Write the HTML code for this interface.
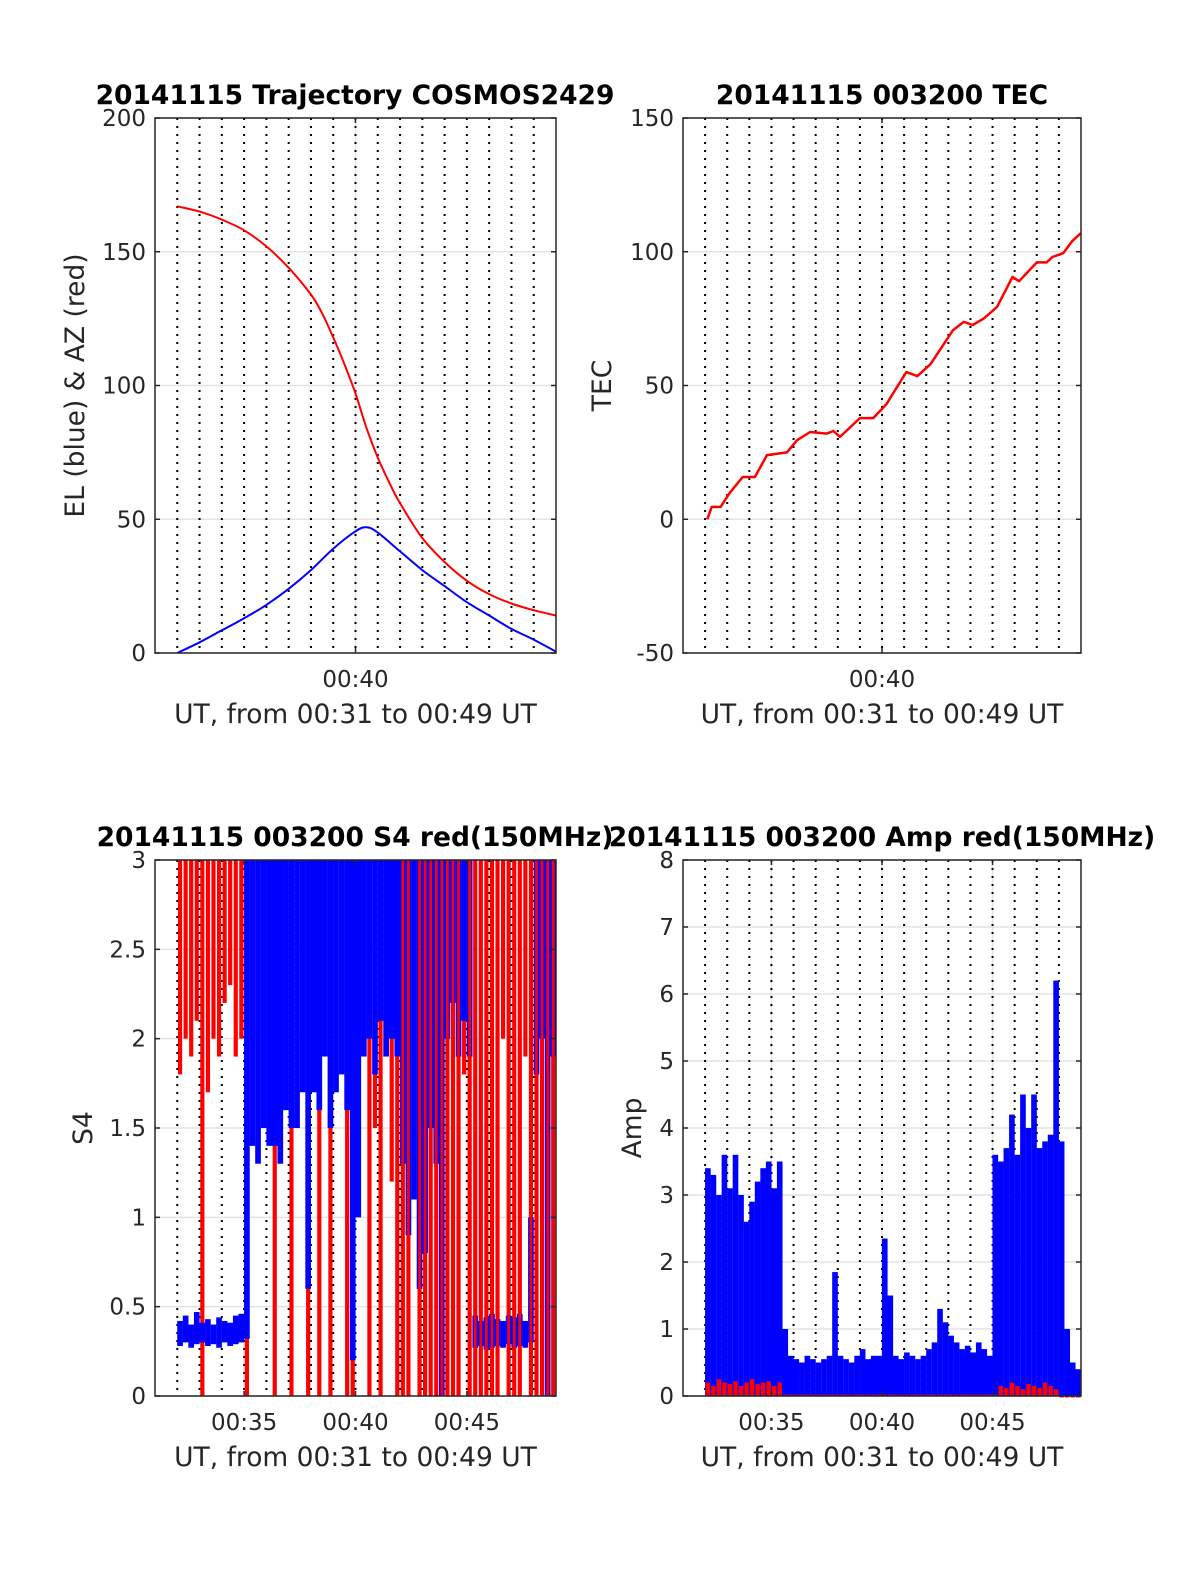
<!DOCTYPE html>
<html><head><meta charset="utf-8">
<style>
html,body{margin:0;padding:0;background:#fff;}
svg{display:block;font-family:"DejaVu Sans","Liberation Sans",sans-serif;}
</style></head>
<body>
<svg id="fig" width="1200" height="1575" viewBox="0 0 1200 1575" xmlns="http://www.w3.org/2000/svg"></svg>
<script>
// ---- data (minutes after 00:31) ----
const azT = [1,2,3,4,5,6,7,7.5,8,8.5,9,9.5,10,10.5,11,12,13,14,15,16,17,18];
const azV = [167,165,162,158,152,144,134,127,118,108,97,84,73,64,56,43,34,27,22,18.5,16,14];
const elT = [1,2,3,4,5,6,7,8,9,9.5,10,11,12,13,14,15,16,17,18];
const elV = [0,4,8.5,13,18,24,31,39,45.5,47,45,38,31,25,19,14,9,5,0.5];
const tecT = [1.1,1.3,1.7,2.1,2.7,3.25,3.8,4.7,5.15,5.75,6.5,6.8,7.1,8.0,8.6,9.2,10.1,10.6,11.2,12.2,12.7,13.1,13.6,14.2,14.9,15.2,16.0,16.45,16.7,17.2,17.6,18];
const tecV = [0,4.6,4.6,9.7,15.8,15.8,24,25,29.5,32.6,32,33,30.8,37.8,37.8,43,55,53.5,58,70.6,73.8,72.6,75,79.4,90.6,89,96,96,98,99.5,104,107];
// binned (0.25 min bins starting at t=1)
const s4RedLo = [1.8,2.0,1.9,2.1,0,1.7,2.0,1.9,2.2,2.3,1.9,2.0,0,2.6,2.4,2.5,2.5,0,2.3,2.5,0,2.4,2.2,0,2.5,0,2.2,0,2.4,2.2,0,0,1.8,2.0,0,1.5,0,2.0,1.2,0,0,0,1.6,0,0,0,0,0,0,0,0,1.8,0,0,0,0,0,0,2.0,0,0,0,1.9,0,0,0,0,0];
const s4RedHi = [3,3,3,3,3,3,3,3,3,3,3,3,3,3,3,3,3,3,3,3,3,3,3,3,3,3,3,3,3,3,3,3,3,3,3,3,3,3,3,3,3,3,3,3,3,3,3,3,3,3,3,3,3,3,3,3,3,3,3,3,3,3,3,3,3,3,3,3];
const s4BlueLo = [0.28,0.3,0.27,0.29,0.3,0.28,0.29,0.27,0.3,0.28,0.29,0.3,0.32,1.4,1.3,1.5,1.4,1.4,1.3,1.6,1.5,1.5,1.7,0.6,1.7,1.6,1.9,1.5,1.7,1.8,1.6,0.2,1.0,1.9,2.0,1.8,2.1,1.9,2.0,1.9,1.3,0.9,1.1,0.6,0.8,1.5,1.3,0,2.0,2.2,1.9,2.1,1.9,0.27,0.28,0.26,0.27,0.28,0.27,0.29,0.27,0.28,0.27,0.3,1.8,2.0,0,1.9];
const s4BlueHi = [0.42,0.45,0.4,0.47,0.41,0.43,0.4,0.44,0.42,0.41,0.45,0.46,3,3,3,3,3,3,3,3,3,3,3,3,3,3,3,3,3,3,3,3,3,3,3,3,3,3,3,3,3,3,3,3,3,3,3,3,3,3,3,3,3,0.45,0.42,0.44,0.46,0.43,0.42,0.45,0.44,0.46,0.42,1.0,3,3,3,3];
const ampBlueHi = [3.4,3.3,3.0,3.6,3.1,3.6,3.0,2.6,2.9,3.2,3.4,3.5,3.1,3.5,1.0,0.6,0.55,0.5,0.6,0.55,0.5,0.55,0.6,1.85,0.6,0.55,0.5,0.6,0.7,0.55,0.6,0.6,2.35,1.5,0.6,0.55,0.65,0.6,0.55,0.6,0.7,0.8,1.3,1.1,0.9,0.8,0.7,0.75,0.65,0.8,0.7,0.6,3.6,3.5,3.7,4.2,3.6,4.5,4.0,4.5,3.7,3.8,3.9,6.2,3.8,1.0,0.5,0.4];
const ampRedHi = [0.2,0.15,0.25,0.2,0.18,0.22,0.15,0.2,0.25,0.18,0.2,0.22,0.15,0.2,0.02,0.02,0.02,0.02,0.02,0.02,0.02,0.02,0.02,0.02,0.02,0.02,0.02,0.02,0.02,0.02,0.02,0.02,0.02,0.02,0.02,0.02,0.02,0.02,0.02,0.02,0.02,0.02,0.02,0.02,0.02,0.02,0.02,0.02,0.02,0.02,0.02,0.02,0.02,0.15,0.12,0.2,0.15,0.1,0.18,0.15,0.12,0.2,0.15,0.1,0,0,0,0];
const binStart = 1, binW = 0.25;

const NS="http://www.w3.org/2000/svg";
const fig=document.getElementById('fig');
function el(tag,attrs,parent){const e=document.createElementNS(NS,tag);for(const k in attrs)e.setAttribute(k,attrs[k]);(parent||fig).appendChild(e);return e;}
function txt(s,attrs,parent){const e=el('text',attrs,parent);e.textContent=s;return e;}

function makeAxes(cfg){
  const g=el('g',{});
  
  
  const X=t=>cfg.x0+(t/18)*(cfg.x1-cfg.x0);
  const Y=v=>cfg.y1-(v-cfg.ymin)/(cfg.ymax-cfg.ymin)*(cfg.y1-cfg.y0);
  cfg.yticks.forEach(v=>{const y=Y(v);
    const l=el('line',{x1:cfg.x0,x2:cfg.x1,y1:y,y2:y,stroke:'#e3e3e3','stroke-width':1.5},g);
    });
  cfg.xticks.forEach(t=>{const x=X(t);
    const l=el('line',{x1:x,x2:x,y1:cfg.y0,y2:cfg.y1,stroke:'#e3e3e3','stroke-width':1.5},g);
    });
  for(let m=1;m<=17;m++){const x=X(m);
    const l=el('line',{x1:x,x2:x,y1:cfg.y0,y2:cfg.y1,stroke:'#000','stroke-width':2,'stroke-dasharray':'2 6'},g);
    }
  const plot=el('g',{},g);
  
  cfg.draw(plot,X,Y);
  const b=el('rect',{x:cfg.x0,y:cfg.y0,width:cfg.x1-cfg.x0,height:cfg.y1-cfg.y0,fill:'none',stroke:'#262626','stroke-width':1.5},g);
  
  cfg.yticks.forEach(v=>{const y=Y(v);
    el('line',{x1:cfg.x0,x2:cfg.x0+5,y1:y,y2:y,stroke:'#262626','stroke-width':1.5},g);
    el('line',{x1:cfg.x1,x2:cfg.x1-5,y1:y,y2:y,stroke:'#262626','stroke-width':1.5},g);
    const t=txt(String(v),{x:cfg.x0-9,y:y+8,'text-anchor':'end','font-size':23,fill:'#262626'},g);
    });
  cfg.xticks.forEach((tk,i)=>{const x=X(tk);
    el('line',{x1:x,x2:x,y1:cfg.y1,y2:cfg.y1-5,stroke:'#262626','stroke-width':1.5},g);
    el('line',{x1:x,x2:x,y1:cfg.y0,y2:cfg.y0+5,stroke:'#262626','stroke-width':1.5},g);
    const t=txt(cfg.xlabels[i],{x:x,y:cfg.y1+34,'text-anchor':'middle','font-size':23,fill:'#262626'},g);
    });
  const xl=txt('UT, from 00:31 to 00:49 UT',{x:(cfg.x0+cfg.x1)/2,y:cfg.y1+70,'text-anchor':'middle','font-size':26.5,fill:'#262626'},g);
  
  const yl=txt(cfg.ylabel,{x:0,y:0,'text-anchor':'middle','font-size':26.5,fill:'#262626',transform:`translate(${cfg.ylx},${(cfg.y0+cfg.y1)/2}) rotate(-90)`},g);
  
  const ti=txt(cfg.title,{x:cfg.tx,y:cfg.y0-14,'text-anchor':'middle','font-size':26.5,'font-weight':'bold',fill:'#000'},g);
  
}
function line(parent,T,V,X,Y,color,name,w){
  const p=el('polyline',{points:T.map((t,i)=>X(t).toFixed(1)+','+Y(V[i]).toFixed(1)).join(' '),fill:'none',stroke:color,'stroke-width':w||2,'stroke-linejoin':'round'},parent);
  
}
function smooth(parent,T,V,X,Y,color,name,w){
  const P=T.map((t,i)=>[X(t),Y(V[i])]);
  let d='M'+P[0][0].toFixed(1)+','+P[0][1].toFixed(1);
  for(let i=0;i<P.length-1;i++){
    const p0=P[Math.max(i-1,0)],p1=P[i],p2=P[i+1],p3=P[Math.min(i+2,P.length-1)];
    const c1=[p1[0]+(p2[0]-p0[0])/6,p1[1]+(p2[1]-p0[1])/6];
    const c2=[p2[0]-(p3[0]-p1[0])/6,p2[1]-(p3[1]-p1[1])/6];
    d+=` C${c1[0].toFixed(1)},${c1[1].toFixed(1)} ${c2[0].toFixed(1)},${c2[1].toFixed(1)} ${p2[0].toFixed(1)},${p2[1].toFixed(1)}`;
  }
  const p=el('path',{d:d,fill:'none',stroke:color,'stroke-width':w||2},parent);
  
}
function bins(parent,lo,hi,X,Y,color,name,frac,clipMax,tMin){
  lo.forEach((l,i)=>{
    const t=binStart+i*binW;
    if(tMin!==undefined && (t<tMin || l>0)) return;
    const x0=X(t), x1=X(t+binW);
    const w=(x1-x0)*frac, xc=(x0+x1)/2;
    const h=Math.min(hi[i],clipMax);
    const y0=Y(h), y1=Y(Math.min(l,clipMax));
    const r=el('rect',{x:xc-w/2,y:y0,width:w,height:Math.max(y1-y0,1.5),fill:color},parent);
    
  });
}

makeAxes({name:'trajectory-chart',x0:155,x1:556,y0:118,y1:653,ymin:0,ymax:200,
  yticks:[0,50,100,150,200],xticks:[9],xlabels:['00:40'],
  ylabel:'EL (blue) & AZ (red)',ylx:84,title:'20141115 Trajectory COSMOS2429',tx:355,
  draw:(p,X,Y)=>{smooth(p,azT,azV,X,Y,'#ff0000','azimuth-line');smooth(p,elT,elV,X,Y,'#0000ff','elevation-line');}});

makeAxes({name:'tec-chart',x0:683,x1:1081,y0:118,y1:653,ymin:-50,ymax:150,
  yticks:[-50,0,50,100,150],xticks:[9],xlabels:['00:40'],
  ylabel:'TEC',ylx:611,title:'20141115 003200 TEC',tx:882,
  draw:(p,X,Y)=>{line(p,tecT,tecV,X,Y,'#ff0000','tec-line',2.5);}});

makeAxes({name:'s4-chart',x0:155,x1:556,y0:860,y1:1396,ymin:0,ymax:3,
  yticks:[0,0.5,1,1.5,2,2.5,3],xticks:[4,9,14],xlabels:['00:35','00:40','00:45'],
  ylabel:'S4',ylx:92,title:'20141115 003200 S4 red(150MHz)',tx:355,
  draw:(p,X,Y)=>{bins(p,s4RedLo,s4RedHi,X,Y,'#ff0000','s4-red-bin',0.75,3);bins(p,s4BlueLo,s4BlueHi,X,Y,'#0000ff','s4-blue-bin',1.02,3);bins(p,s4RedLo,s4RedHi,X,Y,'#ff0000','s4-red-bin',0.5,3,11);}});

makeAxes({name:'amp-chart',x0:683,x1:1081,y0:860,y1:1396,ymin:0,ymax:8,
  yticks:[0,1,2,3,4,5,6,7,8],xticks:[4,9,14],xlabels:['00:35','00:40','00:45'],
  ylabel:'Amp',ylx:641,title:'20141115 003200 Amp red(150MHz)',tx:882,
  draw:(p,X,Y)=>{const z=ampBlueHi.map(()=>0);bins(p,z,ampBlueHi,X,Y,'#0000ff','amp-blue-bin',1.02,8);bins(p,z,ampRedHi,X,Y,'#ff0000','amp-red-bin',0.8,8);}});
</script>
</body></html>
